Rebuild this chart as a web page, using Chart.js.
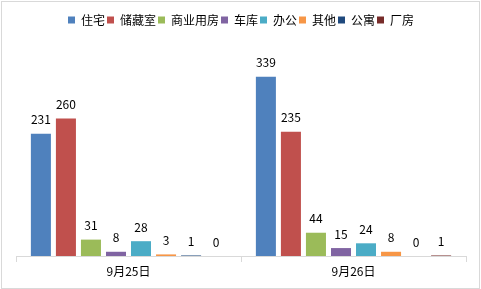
<!DOCTYPE html>
<html lang="zh">

<head>
  <meta charset="UTF-8" />
  <title>9月成交套数</title>
  <style>
    html,
    body {
      margin: 0;
      background: #fff;
    }

    .wrap {
      position: relative;
      width: 481px;
      height: 289px;
    }

    .frame {
      position: absolute;
      left: 1px;
      top: 1px;
      width: 477px;
      height: 286px;
      border: 1px solid #d9d9d9;
      pointer-events: none;
    }
  </style>
  <script src="https://cdn.jsdelivr.net/npm/chart.js"></script>
</head>

<body>
  <div class="wrap">
    <canvas id="mychart" width="481" height="289"></canvas>
    <div class="frame"></div>
  </div>
  <script>
    const days = ['9月25日', '9月26日'];
    const types = ['住宅', '储藏室', '商业用房', '车库', '办公', '其他', '公寓', '厂房'];
    const zhuzhai = [231, 339];
    const chucang = [260, 235];
    const shangye = [31, 44];
    const cheku = [8, 15];
    const bangong = [28, 24];
    const qita = [3, 8];
    const gongyu = [1, 0];
    const changfang = [0, 1];
    const colors = ['#4F81BD', '#C0504D', '#9BBB59', '#8064A2', '#4BACC6', '#F79646', '#1F497D', '#772C2A'];
    const yMax = 416;

    const values = [zhuzhai, chucang, shangye, cheku, bangong, qita, gongyu, changfang];
    const fontFamily = '"Noto Sans CJK SC", "Noto Sans", sans-serif';

    // numbers above the bars
    const barLabels = {
      id: 'barLabels',
      afterDatasetsDraw(chart) {
        const ctx = chart.ctx;
        ctx.save();
        ctx.font = '12px ' + fontFamily;
        ctx.fillStyle = '#000';
        ctx.textAlign = 'center';
        ctx.textBaseline = 'middle';
        chart.data.datasets.forEach((ds, i) => {
          chart.getDatasetMeta(i).data.forEach((bar, j) => {
            ctx.fillText(ds.data[j], bar.x, bar.y - 14);
          });
        });
        ctx.restore();
      }
    };

    var chart = new Chart('mychart', {
      type: 'bar',
      data: {
        labels: days,
        datasets: types.map((t, i) => ({
          label: t,
          data: values[i],
          backgroundColor: colors[i],
          barPercentage: 0.8,
          categoryPercentage: 0.89
        }))
      },
      options: {
        responsive: false,
        animation: false,
        layout: {
          padding: { left: 16, right: 15, top: 12, bottom: 0 }
        },
        plugins: {
          tooltip: { enabled: false },
          legend: {
            position: 'top',
            labels: {
              boxWidth: 7,
              boxHeight: 7,
              padding: 2,
              color: '#000',
              font: { size: 12, family: fontFamily }
            }
          }
        },
        scales: {
          x: {
            grid: {
              offset: true,
              drawOnChartArea: false,
              tickLength: 6,
              color: '#d9d9d9'
            },
            border: { color: '#d9d9d9' },
            ticks: {
              padding: 2,
              color: '#000',
              font: { size: 12, family: fontFamily }
            },
            afterFit(scale) {
              scale.height = 33;
            }
          },
          y: {
            display: false,
            min: 0,
            max: yMax
          }
        }
      },
      plugins: [barLabels]
    });
  </script>
</body>

</html>
